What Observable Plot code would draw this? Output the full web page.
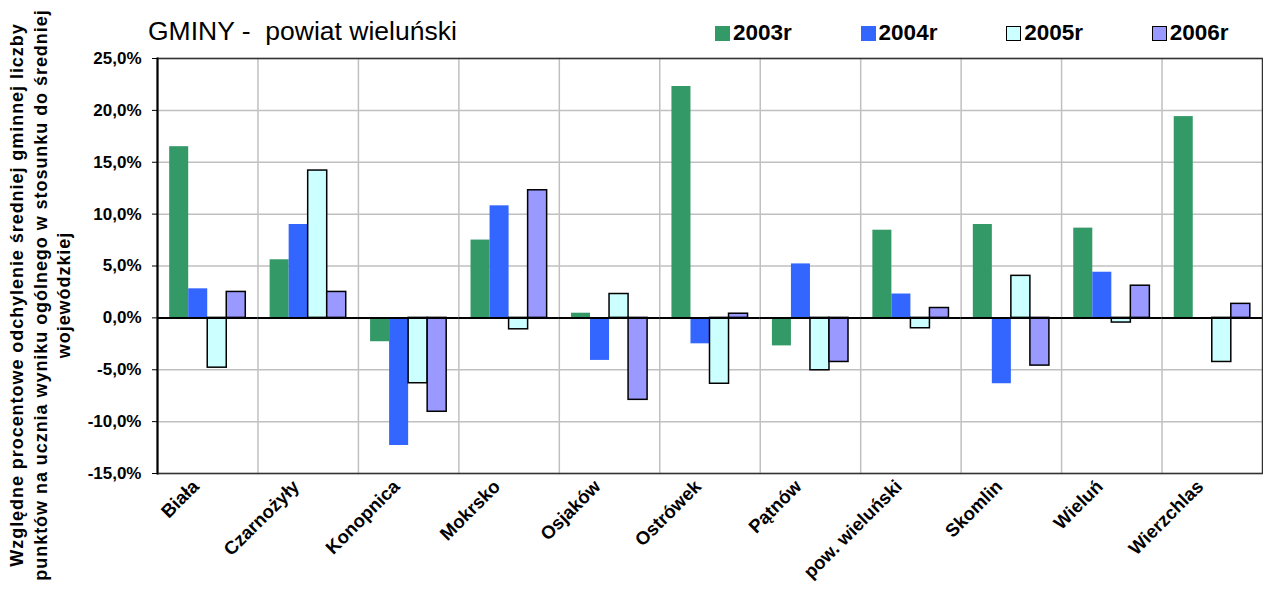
<!DOCTYPE html>
<html>
<head>
<meta charset="utf-8">
<script src="https://cdn.jsdelivr.net/npm/d3@7"></script>
<script src="https://cdn.jsdelivr.net/npm/@observablehq/plot@0.6"></script>
<style>
  body { margin: 0; background: #fff; font-family: "Liberation Sans", Arial, sans-serif; }
  #wrap { position: relative; width: 1263px; height: 608px; overflow: hidden; }
  #header { position: relative; height: 48px; }
  #title { position: absolute; left: 148px; top: 16px; font-size: 26.5px; white-space: pre; color: #000; }
  #legend { position: absolute; left: 715px; top: 20px; display: flex; }
  .item { width: 145.6px; display: flex; align-items: center; font-weight: bold; font-size: 22.5px; color: #000; }
  .sw { width: 15px; height: 15px; margin-right: 3px; box-sizing: border-box; }
  #ylab { position: absolute; left: 41px; top: 295px; width: 700px; transform: translate(-50%, -50%) rotate(-90deg);
          text-align: center; font-weight: bold; font-size: 18px; letter-spacing: 0.95px; line-height: 23.5px; color: #000; white-space: nowrap; }
</style>
</head>
<body>
<div id="wrap">
  <div id="header"><div id="title"></div><div id="legend"></div></div>
  <div id="chart"></div>
  <div id="ylab"></div>
</div>
<script>
const titleText = "GMINY -  powiat wieluński";
const yTitleLines = [
  "Względne procentowe odchylenie średniej gminnej liczby",
  "punktów na ucznia wyniku ogólnego w stosunku do średniej",
  "wojewódzkiej"
];
const categories = ["Biała", "Czarnożyły", "Konopnica", "Mokrsko", "Osjaków", "Ostrówek", "Pątnów", "pow. wieluński", "Skomlin", "Wieluń", "Wierzchlas"];
const years = ["2003r", "2004r", "2005r", "2006r"];
const v2003 = [16.5, 5.6, -2.3, 7.5, 0.45, 22.3, -2.7, 8.45, 9.0, 8.65, 19.4];
const v2004 = [2.8, 9.0, -12.3, 10.8, -4.1, -2.5, 5.2, 2.3, -6.35, 4.4, -0.15];
const v2005 = [-4.8, 14.2, -6.3, -1.1, 2.3, -6.35, -5.05, -1.0, 4.05, -0.45, -4.25];
const v2006 = [2.5, 2.5, -9.05, 12.3, -7.9, 0.4, -4.25, 0.95, -4.6, 3.1, 1.35];
const colors = ["#339966", "#3366ff", "#ccffff", "#9999ff"];
const outlined = [false, false, true, true];
const yTicks = [-15, -10, -5, 0, 5, 10, 15, 20, 25];

const series = [v2003, v2004, v2005, v2006];
const data = categories.flatMap((cat, i) => years.map((year, j) => ({cat, year, value: series[j][i], outlined: outlined[j]})));

document.getElementById("title").textContent = titleText;
const legend = document.getElementById("legend");
years.forEach((y, j) => {
  const it = document.createElement("div"); it.className = "item";
  const sw = document.createElement("div"); sw.className = "sw";
  sw.style.background = colors[j];
  if (outlined[j]) sw.style.border = "1.5px solid #000";
  const t = document.createElement("span"); t.textContent = y;
  it.appendChild(sw); it.appendChild(t); legend.appendChild(it);
});
document.getElementById("ylab").innerHTML = yTitleLines.map(l => `<div>${l}</div>`).join("");

const fmt = d => d.toFixed(1).replace(".", ",") + "%";

const chart = Plot.plot({
  width: 1263,
  height: 560,
  marginTop: 10,
  marginBottom: 135,
  marginLeft: 157,
  marginRight: 1,
  style: {fontFamily: "'Liberation Sans', Arial, sans-serif", color: "#000", background: "#fff"},
  fx: {domain: categories, padding: 0, round: false, label: null},
  x: {domain: years, paddingInner: 0, paddingOuter: 0.64, round: false, axis: null},
  y: {domain: [-15, 25], label: null},
  color: {domain: years, range: colors},
  marks: [
    Plot.gridY(yTicks, {stroke: "#c0c0c0", strokeOpacity: 1, strokeWidth: 1.5}),
    Plot.frame({anchor: "left", stroke: "#c0c0c0", strokeWidth: 1.5}),
    Plot.barY(data.filter(d => !d.outlined), {fx: "cat", x: "year", y: "value", fill: "year", insetLeft: 0, insetRight: 0}),
    Plot.barY(data.filter(d => d.outlined), {fx: "cat", x: "year", y: "value", fill: "year", stroke: "#000", strokeWidth: 1.5, insetLeft: 0, insetRight: 0}),
    Plot.ruleY([0], {stroke: "#000", strokeWidth: 2}),
    Plot.frame({facet: "super", stroke: "#333", strokeWidth: 1.5}),
    Plot.frame({facet: "super", anchor: "left", stroke: "#000", strokeWidth: 2}),
    Plot.axisY(yTicks, {tickFormat: fmt, tickSize: 5, tickPadding: 11, fontWeight: "bold", fontSize: 17, label: null}),
    Plot.axisFx({anchor: "bottom", tickRotate: -45, tickSize: 0, tickPadding: 6, dx: -12, dy: 4, fontWeight: "bold", fontSize: 18.5, label: null})
  ]
});
document.getElementById("chart").appendChild(chart);
</script>
</body>
</html>
